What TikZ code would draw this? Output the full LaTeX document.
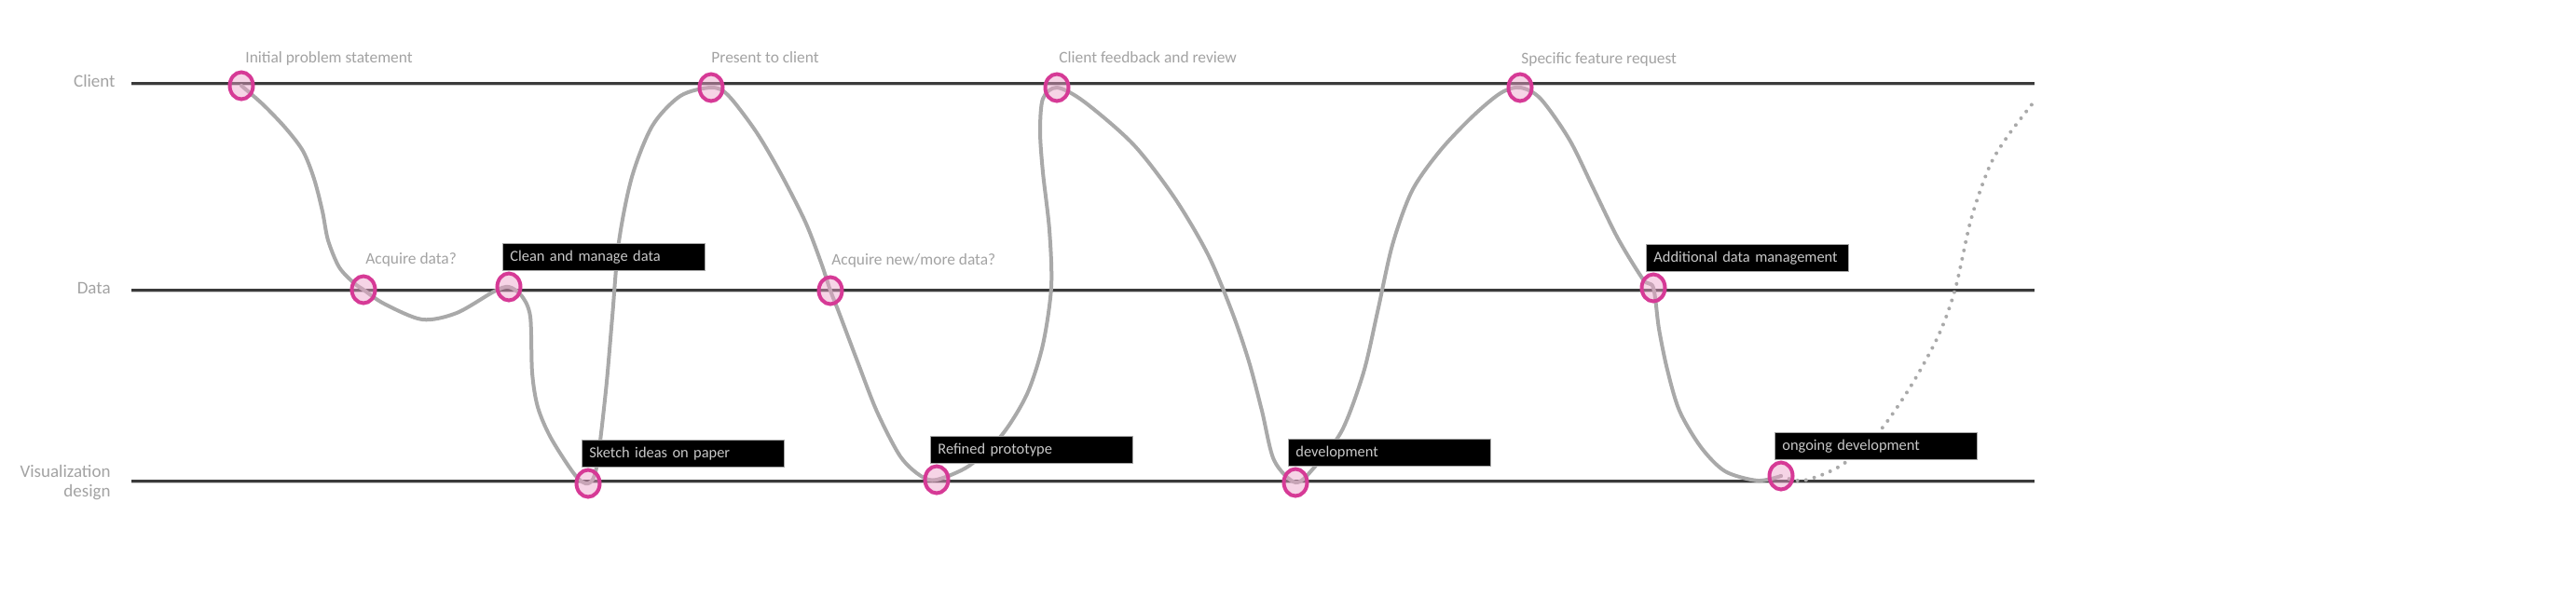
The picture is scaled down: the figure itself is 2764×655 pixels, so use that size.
\documentclass[tikz,border=0pt]{standalone}
\usepackage{fontspec}
\setmainfont{Carlito}
\usetikzlibrary{shapes.geometric}
\definecolor{lanecol}{HTML}{3A3A3A}
\definecolor{laneshade}{HTML}{C8C8C8}
\definecolor{labelgray}{HTML}{A3A3A3}
\definecolor{boxtext}{HTML}{C8C8C8}
\definecolor{curvegray}{HTML}{A9A9A9}
\definecolor{pinkline}{RGB}{214,58,150}
\definecolor{pinkfill}{RGB}{236,160,200}
\tikzset{
  lane/.style={draw=lanecol, line width=1.5pt},
  laneshadow/.style={draw=laneshade, line width=0.8pt},
  lanelabel/.style={anchor=base east, inner sep=0pt, text=labelgray, font=\fontsize{9.5pt}{11pt}\selectfont, align=right},
  eventlabel/.style={anchor=base west, inner sep=0pt, text=labelgray, font=\fontsize{8.7pt}{10pt}\selectfont},
  blackbox/.style={anchor=north west, fill=black, draw=gray!70, line width=0.4pt, text=boxtext,
    minimum height=14.5pt, text width=100.5pt, inner xsep=4pt, inner ysep=0pt, align=left,
    font=\fontsize{8.2pt}{9pt}\selectfont},
  flow/.style={draw=curvegray, line width=2pt, line cap=round, line join=round},
  flowdots/.style={draw=curvegray, line width=2pt, line cap=round, dash pattern=on 0pt off 4.6pt},
  marker/.style={ellipse, draw=pinkline, line width=2pt, fill=pinkfill, fill opacity=0.45,
    draw opacity=1, minimum width=12.5pt, minimum height=14.5pt, inner sep=0pt}
}
\begin{document}
\begin{tikzpicture}[x=0.5pt,y=-0.5pt]
\useasboundingbox[fill=white] (0,0) rectangle (2764,655);
% lanes
\coordinate (cL) at (141,89);  \coordinate (cR) at (2183,89);
\coordinate (dL) at (141,311); \coordinate (dR) at (2183,311);
\coordinate (vL) at (141,516); \coordinate (vR) at (2183,516);
\draw[laneshadow] ([yshift=-1.3pt]cL) -- ([yshift=-1.3pt]cR);
\draw[laneshadow] ([yshift=-1.3pt]dL) -- ([yshift=-1.3pt]dR);
\draw[laneshadow] ([yshift=-1.3pt]vL) -- ([yshift=-1.3pt]vR);
\draw[lane] (cL) -- (cR);
\draw[lane] (dL) -- (dR);
\draw[lane] (vL) -- (vR);
\node[lanelabel] (lc) at (124,93) {Client};
\node[lanelabel] (ld) at (119,315) {Data};
\node[lanelabel] (lv1) at (119,512) {Visualization};
\node[lanelabel] (lv2) at (119,533) {design};
% event points
\coordinate (p1) at (259,92);
\coordinate (p2) at (390,311);
\coordinate (p3) at (546,308);
\coordinate (p4) at (631,519);
\coordinate (p5) at (763,94);
\coordinate (p6) at (891,312);
\coordinate (p7) at (1005,515);
\coordinate (p8) at (1134,94);
\coordinate (p9) at (1390,518);
\coordinate (p10) at (1631,94);
\coordinate (p11) at (1774,309);
\coordinate (p12) at (1911,511);
\coordinate (pend) at (2181,111);
% flow curve
\draw[flow] plot[smooth, tension=0.5] coordinates {
 (p1) (282,112) (306,137) (325,162) (337,192) (346,227) (352,258) (364,287) (380,304)
 (p2) (412,326) (453,343) (490,336) (530,313)
 (p3) (560,318) (569,340) (571,400) (577,437) (591,470) (617,510)
 (p4) (640,502) (650,420) (657,340) (664,260) (678,190) (700,135) (730,103)
 (p5) (781,102) (811,141) (837,185) (864,238) (881,282)
 (p6) (900,335) (920,388) (941,442) (966,490) (988,511)
 (p7) (1040,500) (1075,467) (1102,423) (1119,370) (1128,308) (1126,247) (1119,185) (1116,141) (1119,106)
 (p8) (1163,109) (1216,155) (1260,212) (1296,273) (1322,335) (1340,388) (1354,441) (1367,494)
 (p9) (1410,502) (1440,462) (1463,400) (1478,335) (1494,263) (1515,205) (1545,162) (1580,125) (1610,100)
 (p10) (1653,106) (1684,150) (1710,203) (1736,256) (1763,300)
 (p11) (1780,353) (1789,397) (1802,441) (1825,480) (1851,506) (1886,516)
 (p12)};
\draw[flowdots] plot[smooth, tension=0.5] coordinates {
 (p12) (1935,516) (1975,500) (2015,465) (2050,415) (2080,360) (2098,310) (2115,235) (2135,178) (2155,145) (pend)};
% markers
\foreach \i in {1,...,12} { \node[marker] (m\i) at (p\i) {}; }
% event labels
\node[eventlabel] (e1) at (263,67) {Initial problem statement};
\node[eventlabel] (e2) at (392,283) {Acquire data?};
\node[eventlabel] (e5) at (763,67) {Present to client};
\node[eventlabel] (e6) at (892,284) {Acquire new/more data?};
\node[eventlabel] (e8) at (1136,67) {Client feedback and review};
\node[eventlabel] (e10) at (1632,68) {Specific feature request};
% black boxes
\node[blackbox] (b3) at (539,261) {Clean and manage data};
\node[blackbox] (b4) at (624,472) {Sketch ideas on paper};
\node[blackbox] (b7) at (998,468) {Refined prototype};
\node[blackbox] (b9) at (1382,471) {development};
\node[blackbox] (b11) at (1766,262) {Additional data management};
\node[blackbox] (b12) at (1904,464) {ongoing development};
\end{tikzpicture}
\end{document}
